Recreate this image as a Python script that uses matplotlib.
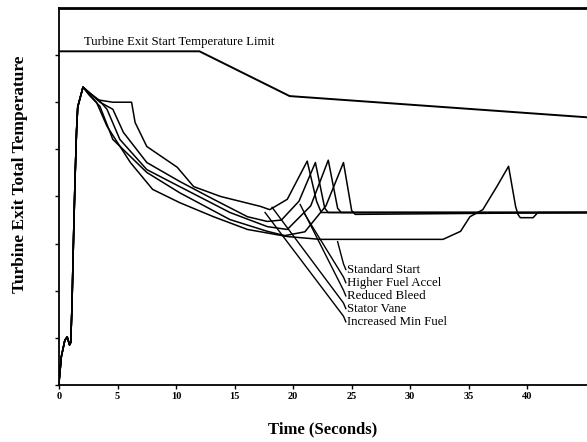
import matplotlib.pyplot as plt

# common light-off / rise portion (seconds, relative temperature units)
rise_t = [0.0, 0.2, 0.5, 0.7, 0.9, 1.0, 1.1, 1.25, 1.37, 1.5, 1.6, 2.05]
rise_v = [0.05, 0.6, 0.95, 1.02, 0.85, 0.9, 1.6, 3.2, 4.36, 5.4, 5.9, 6.32]

# each start schedule after the peak
min_fuel_t = [2.6, 3.3, 4.6, 6.2, 6.5, 7.5, 10.1, 11.5, 13.8, 17.2, 18.0, 19.5, 21.2, 22.0, 22.4, 45.1]
min_fuel_v = [6.2, 6.05, 6.0, 6.0, 5.57, 5.06, 4.62, 4.21, 4.0, 3.79, 3.72, 3.94, 4.75, 3.9, 3.66, 3.66]

stator_t = [2.6, 3.5, 4.6, 5.5, 7.5, 10.3, 13.2, 16.1, 17.8, 19.0, 20.5, 21.9, 22.7, 23.0, 45.1]
stator_v = [6.2, 6.0, 5.85, 5.36, 4.72, 4.32, 3.94, 3.57, 3.47, 3.5, 3.9, 4.72, 3.75, 3.66, 3.66]

bleed_t = [2.6, 3.4, 4.1, 5.2, 7.5, 10.3, 14.6, 17.8, 19.5, 21.5, 23.0, 23.8, 24.1, 45.1]
bleed_v = [6.2, 6.05, 5.85, 5.21, 4.57, 4.21, 3.66, 3.36, 3.3, 3.8, 4.77, 3.75, 3.66, 3.66]

accel_t = [2.6, 3.5, 4.6, 7.5, 10.3, 14.6, 17.8, 19.3, 21.0, 22.8, 24.3, 25.0, 25.3, 45.1]
accel_v = [6.15, 5.91, 5.21, 4.51, 4.08, 3.51, 3.26, 3.17, 3.25, 3.8, 4.72, 3.7, 3.62, 3.66]

standard_t = [2.6, 3.2, 4.1, 6.1, 8.0, 10.3, 13.2, 16.1, 19.5, 22.3, 32.8, 34.3, 35.1,
              36.2, 37.4, 38.4, 39.0, 39.2, 39.4, 40.5, 40.9, 45.1]
standard_v = [6.15, 6.0, 5.49, 4.72, 4.15, 3.87, 3.57, 3.3, 3.15, 3.09, 3.09, 3.26, 3.57,
              3.72, 4.21, 4.64, 3.79, 3.62, 3.55, 3.55, 3.66, 3.66]

limit_t = [0.0, 12.0, 19.7, 45.1]
limit_v = [7.08, 7.08, 6.13, 5.68]

# labels with leader lines (start on curve -> label point)
names = ["Standard Start", "Higher Fuel Accel", "Reduced Bleed", "Stator Vane", "Increased Min Fuel"]
label_y = [2.45, 2.17, 1.89, 1.62, 1.34]
lead_t = [23.8, 21.0, 20.6, 18.2, 17.6]
lead_v = [3.04, 3.62, 3.83, 3.77, 3.66]

serif = ['Liberation Serif', 'DejaVu Serif']
plt.rcParams['font.family'] = serif

fig = plt.figure(figsize=(5.87, 4.42), dpi=100)
ax = fig.add_axes([0.1005, 0.129, 0.8995, 0.853])

curves = [(min_fuel_t, min_fuel_v), (stator_t, stator_v), (bleed_t, bleed_v),
          (accel_t, accel_v), (standard_t, standard_v)]
for t, v in curves:
    ax.plot(rise_t + t, rise_v + v, color='black', lw=1.1)

ax.plot(limit_t, limit_v, color='black', lw=1.4)
ax.text(10.3, 7.28, 'Turbine Exit Start Temperature Limit', fontsize=9.2,
        ha='center', va='center')

for name, ly, lt, lv in zip(names, label_y, lead_t, lead_v):
    ax.plot([lt, 24.3, 24.5], [lv, ly + 0.12, ly], color='black', lw=1.0)
    ax.text(24.6, ly, name, fontsize=9.3, ha='left', va='center')

ax.set_xlim(0, 45.1)
ax.set_ylim(0, 8)
ax.set_xticks(range(0, 45, 5))
ax.set_xticklabels([str(v) for v in range(0, 45, 5)], fontsize=7.5, fontweight='bold')
ax.set_yticks(range(0, 8))
ax.set_yticklabels([])
ax.tick_params(direction='out', length=3, width=1, pad=2)
ax.spines['right'].set_visible(False)
for s in ['left', 'bottom']:
    ax.spines[s].set_linewidth(1.3)
ax.spines['top'].set_linewidth(2.0)

ax.set_xlabel('Time (Seconds)', fontsize=12, fontweight='bold')
ax.xaxis.set_label_coords(0.5, -0.097)
ax.set_ylabel('Turbine Exit Total Temperature', fontsize=12.5, fontweight='bold')
ax.yaxis.set_label_coords(-0.058, 0.56)

fig.savefig('out.png', dpi=100)
